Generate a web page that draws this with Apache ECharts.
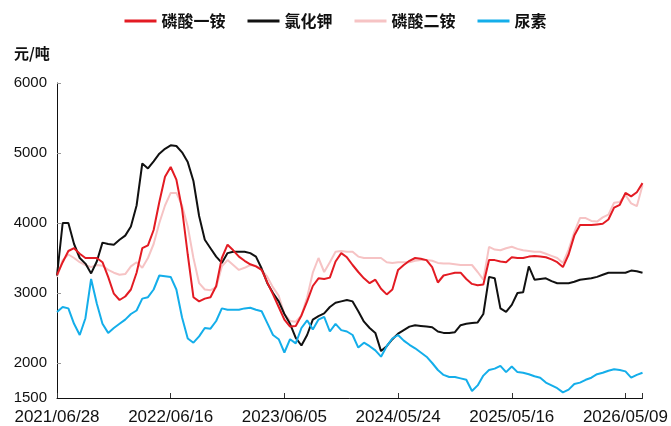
<!DOCTYPE html>
<html>
<head>
<meta charset="utf-8">
<script src="https://cdn.jsdelivr.net/npm/echarts@6/dist/echarts.min.js"></script>
<style>
html,body{margin:0;padding:0;background:#fff;}
#c{width:671px;height:426px;}
</style>
</head>
<body>
<div id="c"></div>
<script>
// Tick labels shown every 20 samples along the category axis
var tickLabels = ['2021/06/28','2022/06/16','2023/06/05','2024/05/24','2025/05/16','2026/05/09'];
var tickStep = 20;
var yLabelValues = [1500, 2000, 3000, 4000, 5000, 6000];
var unitLabel = '元/吨';
var seriesNames = ['磷酸一铵', '氯化钾', '磷酸二铵', '尿素'];

// 磷酸一铵
var map = [3260,3440,3600,3640,3560,3500,3500,3500,3440,3230,2990,2900,2950,3050,3290,3640,3680,3900,4300,4660,
4800,4620,4200,3550,2940,2880,2920,2940,3100,3500,3690,3610,3520,3460,3410,3380,3330,3150,2980,2800,
2620,2520,2530,2680,2880,3100,3210,3200,3220,3450,3570,3510,3400,3300,3210,3140,3190,3060,2980,3050,
3330,3400,3460,3500,3490,3470,3370,3150,3250,3270,3290,3290,3200,3130,3110,3120,3470,3470,3450,3440,
3510,3500,3500,3520,3530,3520,3510,3480,3440,3370,3550,3820,3970,3970,3970,3980,3990,4050,4220,4260,
4430,4380,4440,4570];
// 氯化钾
var kcl = [3250,4000,4000,3700,3500,3420,3280,3450,3720,3700,3690,3760,3820,3950,4250,4850,4780,4880,4990,5060,
5110,5100,5010,4870,4600,4100,3760,3640,3520,3430,3570,3590,3590,3590,3570,3520,3350,3140,3000,2880,
2700,2560,2360,2250,2400,2620,2670,2710,2800,2860,2880,2900,2880,2740,2590,2500,2430,2170,2240,2340,
2420,2470,2520,2540,2530,2520,2510,2450,2430,2430,2440,2540,2560,2570,2580,2700,3230,3210,2780,2730,
2830,3000,3010,3380,3190,3200,3210,3170,3140,3140,3140,3160,3190,3200,3210,3230,3260,3290,3290,3290,
3290,3320,3310,3290];
// 磷酸二铵
var dap = [3230,3470,3550,3500,3440,3400,3370,3400,3390,3330,3290,3260,3270,3380,3440,3360,3500,3700,4000,4250,
4430,4430,4250,3950,3500,3140,3050,3040,3080,3380,3470,3400,3330,3360,3400,3390,3330,3230,3080,2960,
2700,2600,2590,2680,2940,3290,3500,3300,3440,3590,3600,3590,3590,3520,3500,3500,3500,3500,3440,3430,
3440,3440,3440,3460,3470,3470,3460,3430,3420,3420,3410,3400,3400,3400,3300,3190,3660,3620,3610,3640,
3660,3630,3610,3600,3590,3590,3560,3530,3500,3430,3620,3870,4070,4070,4030,4020,4080,4120,4290,4300,
4400,4280,4240,4540];
// 尿素
var urea = [2730,2800,2780,2560,2400,2640,3200,2850,2560,2430,2500,2560,2620,2700,2750,2920,2940,3050,3250,3240,
3230,3050,2650,2350,2290,2380,2500,2490,2600,2780,2760,2760,2760,2780,2790,2760,2740,2570,2400,2340,
2150,2340,2280,2500,2610,2480,2620,2660,2450,2560,2470,2450,2400,2220,2290,2240,2180,2090,2240,2350,
2400,2320,2260,2210,2150,2090,2000,1900,1830,1800,1800,1780,1760,1600,1680,1820,1900,1920,1960,1870,
1950,1870,1860,1840,1810,1790,1720,1680,1640,1580,1620,1700,1720,1760,1790,1840,1860,1890,1910,1900,
1880,1790,1830,1860];

var N = map.length;
var categories = [];
for (var i = 0; i < N; i++) categories.push(String(i));

var chart = echarts.init(document.getElementById('c'), null, {renderer: 'canvas'});
var FONT = '"Liberation Sans", Arial, sans-serif';
var CJK = '"Noto Sans CJK SC", sans-serif';

function line(name, data, color, z) {
  return {
    name: name, type: 'line', data: data, symbol: 'none', showSymbol: false, z: z,
    lineStyle: {color: color, width: 2}, itemStyle: {color: color},
    emphasis: {disabled: true}, animation: false
  };
}

chart.setOption({
  animation: false,
  grid: {left: 57, right: 28, top: 83, bottom: 28, containLabel: false},
  legend: {
    top: 8, left: 'center',
    icon: 'rect',
    itemWidth: 32, itemHeight: 3, itemGap: 22,
    textStyle: {fontSize: 16, color: '#111', fontFamily: CJK, fontWeight: 'bold'},
    data: seriesNames
  },
  graphic: [{
    type: 'text', left: 14, top: 46,
    style: {text: unitLabel, fontSize: 15, fill: '#111', fontFamily: CJK, fontWeight: 'bold'}
  }],
  xAxis: {
    type: 'category', data: categories, boundaryGap: false,
    axisLine: {lineStyle: {color: '#111', width: 1}},
    axisTick: {
      inside: true, length: 5, lineStyle: {color: '#333'},
      interval: function (idx) { return idx % tickStep === 0 || idx === N - 1; }
    },
    axisLabel: {
      interval: function (idx) { return idx % tickStep === 0; },
      formatter: function (v, idx) { return tickLabels[idx / tickStep] || ''; },
      fontSize: 17, color: '#111', fontFamily: FONT, margin: 11, hideOverlap: false
    },
    splitLine: {show: false}
  },
  yAxis: {
    type: 'value', min: 1500, max: 6000,
    axisLine: {show: true, lineStyle: {color: '#111', width: 1}},
    axisTick: {show: true, inside: true, length: 4, lineStyle: {color: '#999'},
      customValues: [2000, 3000, 4000, 5000, 6000]},
    axisLabel: {fontSize: 15, color: '#111', fontFamily: FONT, margin: 10,
      customValues: yLabelValues,
      formatter: function (v) { return String(v); }},
    splitLine: {show: false}
  },
  series: [
    line(seriesNames[0], map, '#e31b23', 4),
    line(seriesNames[1], kcl, '#111111', 3),
    line(seriesNames[2], dap, '#f6c3c4', 2),
    line(seriesNames[3], urea, '#14aeea', 5)
  ]
});
</script>
</body>
</html>
